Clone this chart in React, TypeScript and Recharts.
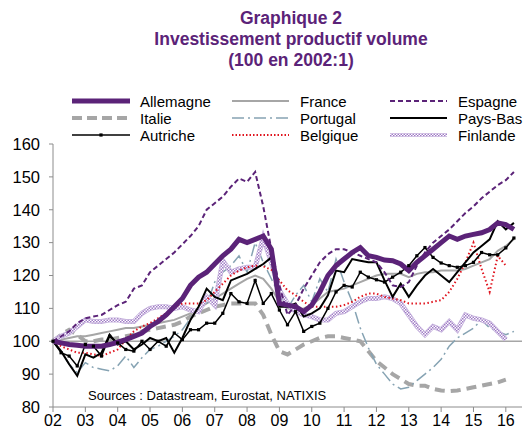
import { LineChart, Line, XAxis, YAxis, ReferenceLine } from 'recharts'

// Investissement productif volume, 100 en 2002:1, trimestriel de 2002T1 à 2016T2
const yearLabels = ['02', '03', '04', '05', '06', '07', '08', '09', '10', '11', '12', '13', '14', '15', '16']
const yTicks = [80, 90, 100, 110, 120, 130, 140, 150, 160]

const allemagne = [
  100, 99.5, 99, 98.8, 98.5, 98.5, 98.5, 99, 99.7, 100.5, 101.5, 102.5, 104.5, 106, 108, 110.5,
  113, 117, 119.5, 121, 123.5, 126, 128, 131, 130, 131, 132, 128, 111.5, 111, 110.5, 109,
  111, 115, 120, 123, 125, 127, 128.5, 126, 125.5, 124.7, 124.5, 123.5, 121.5, 124, 126, 128,
  130, 132, 131, 132, 132.5, 133, 134, 136, 135.5, 134,
]
const espagne = [
  100, 101.5, 103, 105.5, 107, 107.5, 108, 109.5, 111, 112, 116, 117, 121, 123, 125, 127,
  129.5, 132, 135, 140, 142, 144, 147, 149.5, 148.5, 151.5, 141, 128, 117, 108, 111, 116,
  120, 124, 126.5, 128, 128, 127, 126, 125, 124, 121, 117, 116.5, 118, 123, 127, 130,
  132, 134, 136.5, 139, 141, 143.5, 145.5, 147.5, 149, 151.5,
]
const france = [
  100, 100.5, 101, 101.5, 101.5, 102, 102.5, 103, 103.5, 104, 104, 104.5, 105, 105.5, 106, 106.5,
  107.5, 108.5, 110, 111.5, 113, 114.5, 116, 117.5, 119, 120, 119, 116, 112, 110, 109.5, 110,
  111, 113, 115, 115.5, 116, 117, 118, 119, 120, 120.5, 120.5, 120.5, 119.5, 120.5, 121, 121,
  121.5, 121.5, 121.5, 122, 123, 124, 125, 127.5, 129, 131,
]
const italie = [
  100, 102, 103.5, 102, 100, 100, 100.5, 100.5, 101, 101.5, 102, 103, 103.5, 104, 104.5, 105,
  106, 107.5, 108.5, 109.5, 110.5, 111, 111.5, 111.5, 111.5, 111.5, 108, 102, 97, 96, 97.5, 99,
  100, 101, 101.5, 101.5, 101, 100.5, 100, 97, 94, 92, 90, 88.5, 87, 86.5, 86.5, 85.5,
  85, 84.8, 85, 85.5, 86, 86.5, 87, 87.5, 88.3, null,
]
const portugal = [
  100, 97, 93, 90.5, 93.5, 92, 91.5, 91, 92.5, 95.5, 92, 95, 97.5, 98.5, 100, 101.5,
  103.5, 107, 110, 111, 118, 121, 123, 126, 121, 130, 124, 119, 114, 110, 114, 117,
  112, 119, 115, 125, 118, 112, 104, 98, 93, 90, 87, 85.5, 86, 88, 90, 92,
  94.5, 98.5, 101, 102.5, 104, 106.5, 104, 103, 102, 103,
]
const paysBas = [
  100, 97, 93, 89.5, 96, 95, 96.5, 102, 99, 100, 97.5, 99, 101, 100, 101, 96.5,
  101, 106.5, 110.5, 116, 113.5, 112.5, 118.5, 119.5, 120.5, 122, 123.5, 125.5, 110.5, 110.5, 111.5, 107.5,
  108.5, 110, 114, 121.5, 121, 125, 124.5, 124, 124, 118.5, 113.5, 117.5, 113.5, 117, 120, 122,
  120, 118, 121, 124, 127, 129, 131, 136.5, 134, 136,
]
const autriche = [
  100, 96.5, 95.5, 92.5, 99, 98.5, 95.5, 101.5, 99.5, 97.5, 97, 100, 97.5, 100, 98.5, 102.5,
  100.5, 103.5, 103.5, 105.5, 105.5, 108.5, 114.5, 112, 111.5, 118.5, 111.5, 114.5, 109.5, 105, 109, 103,
  104.5, 105.5, 110, 115, 117, 116.5, 121, 119.5, 118.7, 118, 119.5, 121, 123, 126, 128.5, 125.5,
  123.8, 123, 122.5, 123, 124, 127, 126.3, 126.3, 128.4, 131.4,
]
const belgique = [
  100, 98.5, 97.5, 96.5, 96.5, 96, 95.5, 96.5, 97.5, 100.5, 103, 104.5, 105.5, 107, 108.5, 110.5,
  111.5, 111.5, 111.5, 112.5, 115, 117.5, 120, 121.5, 122.5, 123, 122.8, 121.7, 118.5, 115.5, 114, 112,
  110.5, 110.5, 110.5, 110.5, 111, 112, 113.5, 114.5, 114.5, 113.5, 113, 112.5, 111.5, 111.5, 111.5, 112,
  112.5, 115, 119, 124, 130, 122, 115, 126, 123, null,
]
const finlande = [
  100, 101.5, 102.5, 104.5, 106.5, 106, 106, 106.5, 106.5, 106, 106, 108.5, 110, 110.5, 110.5, 110,
  110.5, 109.5, 109, 113.5, 111, 124.5, 121, 122, 122.5, 122.5, 131.5, 124, 115.5, 111.5, 109, 108,
  107.5, 106.5, 106.5, 108.5, 109, 110.5, 112, 113, 113, 113.5, 113, 111.5, 108, 104.5, 102, 104.5,
  103.5, 106, 103.5, 108, 107, 106.5, 105.5, 103, 100.5, null,
]

const data = allemagne.map((_, i) => ({
  q: i,
  allemagne: allemagne[i],
  espagne: espagne[i],
  france: france[i],
  italie: italie[i],
  portugal: portugal[i],
  paysBas: paysBas[i],
  autriche: autriche[i],
  belgique: belgique[i],
  finlande: finlande[i],
}))

const PURPLE = '#5b2378'
const GREY = '#a6a6a6'
const FONT = '"Liberation Sans", Arial, sans-serif'

const xTicks = yearLabels.map((_, i) => i * 4)

const SquareDot = (props: any) => {
  const { cx, cy, index } = props
  if (cx == null || cy == null) return <g key={index} />
  return <rect key={index} x={cx - 1.6} y={cy - 1.6} width={3.2} height={3.2} fill="#000" />
}

type LegendItem = { label: string; x: number; y: number; sample: JSX.Element }

const legendItems: LegendItem[] = [
  { label: 'Allemagne', x: 72, y: 101, sample: <line x1={0} y1={6} x2={58} y2={6} stroke={PURPLE} strokeWidth={5} /> },
  { label: 'Italie', x: 72, y: 118, sample: <line x1={0} y1={6} x2={58} y2={6} stroke={GREY} strokeWidth={4} strokeDasharray="10 5" /> },
  {
    label: 'Autriche', x: 72, y: 135, sample: (
      <g>
        <line x1={0} y1={6} x2={58} y2={6} stroke="#000" strokeWidth={1.5} />
        <rect x={27.4} y={4.4} width={3.2} height={3.2} fill="#000" />
      </g>
    ),
  },
  { label: 'France', x: 232, y: 101, sample: <line x1={0} y1={6} x2={57} y2={6} stroke={GREY} strokeWidth={2} /> },
  { label: 'Portugal', x: 232, y: 118, sample: <line x1={0} y1={6} x2={57} y2={6} stroke="#86a3b3" strokeWidth={1.5} strokeDasharray="12 4 2 4" /> },
  { label: 'Belgique', x: 232, y: 135, sample: <line x1={0} y1={6} x2={57} y2={6} stroke="#e0141e" strokeWidth={2} strokeDasharray="1.5 2" /> },
  { label: 'Espagne', x: 390, y: 101, sample: <line x1={0} y1={6} x2={57} y2={6} stroke={PURPLE} strokeWidth={2} strokeDasharray="5 3" /> },
  { label: 'Pays-Bas', x: 390, y: 118, sample: <line x1={0} y1={6} x2={57} y2={6} stroke="#000" strokeWidth={2} /> },
  { label: 'Finlande', x: 390, y: 135, sample: <line x1={0} y1={6} x2={57} y2={6} stroke="url(#finPatLeg)" strokeWidth={4} /> },
]

const App = () => {
  return (
    <div style={{ position: 'absolute', left: 0, top: 0, width: 523, height: 435, background: '#fff', fontFamily: FONT }}>
      <div
        style={{
          position: 'absolute',
          top: 8,
          left: 56,
          width: 470,
          textAlign: 'center',
          color: PURPLE,
          fontWeight: 'bold',
          fontSize: 17.5,
          lineHeight: '21px',
        }}
      >
        <div>Graphique 2</div>
        <div>Investissement productif volume</div>
        <div>(100 en 2002:1)</div>
      </div>

      {legendItems.map((it) => (
        <div key={it.label} style={{ position: 'absolute', left: it.x, top: it.y - 9, height: 18, display: 'flex', alignItems: 'center' }}>
          <svg width={60} height={12} style={{ display: 'block' }}>
            <defs>
              <pattern id="finPatLeg" width={3} height={3} patternUnits="userSpaceOnUse">
                <rect width={3} height={3} fill="#fff" />
                <rect width={1.5} height={1.5} fill="#a07cc6" />
                <rect x={1.5} y={1.5} width={1.5} height={1.5} fill="#a07cc6" />
              </pattern>
            </defs>
            {it.sample}
          </svg>
          <span style={{ marginLeft: 8, fontSize: 15, color: '#000', whiteSpace: 'nowrap' }}>{it.label}</span>
        </div>
      ))}

      <div style={{ position: 'absolute', left: 0, top: 0 }}>
        <LineChart width={523} height={435} data={data} margin={{ top: 144, right: 1, bottom: 0, left: 0 }}>
          <defs>
            <pattern id="finPat" width={3} height={3} patternUnits="userSpaceOnUse">
              <rect width={3} height={3} fill="#fff" />
              <rect width={1.5} height={1.5} fill="#a07cc6" />
              <rect x={1.5} y={1.5} width={1.5} height={1.5} fill="#a07cc6" />
            </pattern>
          </defs>
          <XAxis
            type="number"
            dataKey="q"
            domain={[0, 58]}
            ticks={xTicks}
            tickFormatter={(v: number) => yearLabels[v / 4]}
            interval={0}
            height={28}
            stroke="#8c8c8c"
            tickSize={5}
            tickMargin={3}
            tick={{ fill: '#000', fontSize: 16, fontFamily: FONT }}
          />
          <YAxis
            domain={[80, 160]}
            ticks={yTicks}
            interval={0}
            width={53}
            stroke="#8c8c8c"
            tickSize={4}
            tickMargin={9}
            tick={{ fill: '#000', fontSize: 16.5, fontFamily: FONT }}
          />
          <ReferenceLine y={100} stroke={GREY} strokeWidth={1.5} />
          <Line dataKey="italie" stroke={GREY} strokeWidth={4} strokeDasharray="10 6" dot={false} isAnimationActive={false} />
          <Line dataKey="france" stroke={GREY} strokeWidth={2} dot={false} isAnimationActive={false} />
          <Line dataKey="portugal" stroke="#86a3b3" strokeWidth={1.5} strokeDasharray="12 4 2 4" dot={false} isAnimationActive={false} />
          <Line dataKey="finlande" stroke="#c6b3dd" strokeWidth={5} dot={false} isAnimationActive={false} />
          <Line dataKey="finlande" stroke="url(#finPat)" strokeWidth={3.5} dot={false} isAnimationActive={false} />
          <Line dataKey="belgique" stroke="#e0141e" strokeWidth={2} strokeDasharray="1.5 2.5" dot={false} isAnimationActive={false} />
          <Line dataKey="autriche" stroke="#000" strokeWidth={1.5} dot={SquareDot} isAnimationActive={false} />
          <Line dataKey="paysBas" stroke="#000" strokeWidth={2} dot={false} isAnimationActive={false} />
          <Line dataKey="espagne" stroke={PURPLE} strokeWidth={2} strokeDasharray="5 3" dot={false} isAnimationActive={false} />
          <Line dataKey="allemagne" stroke={PURPLE} strokeWidth={5} dot={false} isAnimationActive={false} />
        </LineChart>
      </div>

      <div style={{ position: 'absolute', left: 88, top: 388, fontSize: 13, color: '#000', whiteSpace: 'nowrap' }}>
        Sources : Datastream, Eurostat, NATIXIS
      </div>
    </div>
  )
}

export default App
